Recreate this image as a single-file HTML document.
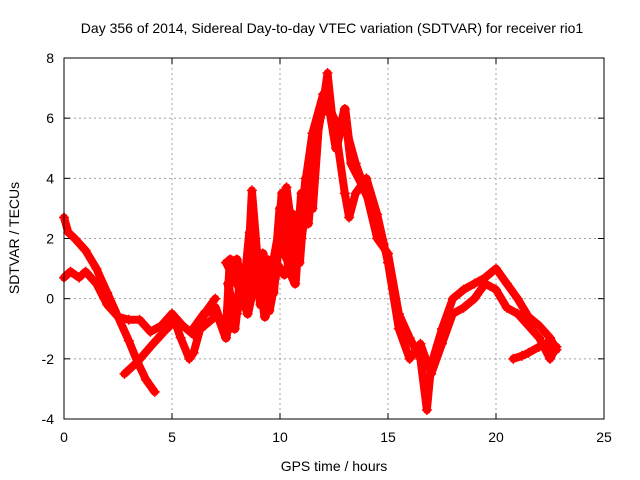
<!DOCTYPE html>
<html><head><meta charset="utf-8"><style>
body{margin:0;background:#fff;}
svg{display:block;font-family:"Liberation Sans",sans-serif;}
</style></head><body>
<svg id="chart" width="640" height="480">
<rect width="640" height="480" fill="#fff"/>
<text x="332" y="33" font-size="14" text-anchor="middle">Day 356 of 2014, Sidereal Day-to-day VTEC variation (SDTVAR) for receiver rio1</text>
<text x="334" y="471" font-size="14" text-anchor="middle">GPS time / hours</text>
<text transform="translate(19,238) rotate(-90)" font-size="14" text-anchor="middle">SDTVAR / TECUs</text>
<g id="grid"></g><g id="series"></g><g id="axes"></g>
</svg>
<script>
const xTicks=[0,5,10,15,20,25];
const yTicks=[-4,-2,0,2,4,6,8];
const traceAT=[0,0.2,0.5,1,1.5,2,2.5,3,3.4,3.8,4.2];
const traceAV=[2.7,2.2,2.0,1.6,1.0,0.2,-0.6,-1.4,-2.1,-2.7,-3.1];
const traceBT=[0,0.3,0.7,1,1.5,2,2.5,3,3.5,4,4.5,5,5.5,6,6.5,7];
const traceBV=[0.7,0.9,0.7,0.9,0.5,-0.2,-0.6,-0.7,-0.7,-1.1,-0.9,-0.5,-0.9,-1.2,-0.9,-0.6];
const traceCT=[2.8,3.4,4,4.5,4.9,5.0,5.4,5.8,6.0,6.5,7.0];
const traceCV=[-2.5,-2.1,-1.6,-1.2,-0.9,-0.5,-1.3,-2.0,-1.8,-0.5,0.0];
const traceDT=[7.5,8,8.5,8.7,9,9.5,10,10.3,10.7,11,11.5,12,12.2,12.5,13,13.5,14,14.5,15,15.5,16,16.5,16.8,17,17.5,18,18.5,19,19.5,20,20.5,21,21.5,22,22.5,22.8];
const traceDV=[-1.2,-0.5,0.8,3.6,1.0,0.5,2.5,3.7,1.5,2.0,4.5,6.5,7.5,5.5,5.8,4.5,3.5,2.0,1.5,-0.5,-1.3,-2.0,-3.7,-2.2,-1.0,0.0,0.3,0.5,0.7,1.0,0.5,0.0,-0.6,-0.9,-1.3,-1.7];
const traceET=[7.5,8,8.5,9,9.5,10,10.5,11,11.5,12,12.5,13,13.2,13.5,14,14.5,15,15.5,16,16.5,17,17.5,18,18.5,19,19.5,20,20.5,21,21.5,22,22.5,22.8];
const traceEV=[1.2,0.5,-0.3,1.0,0.3,1.8,1.0,3.0,5.5,6.8,6.0,3.5,2.7,3.5,4.0,2.8,1.2,-1.0,-2.0,-1.5,-2.5,-1.5,-0.5,-0.3,0.0,0.5,0.3,-0.3,-0.5,-0.9,-1.3,-2.0,-1.6];
const traceFT=[20.8,21.2,21.5,22,22.3,22.5];
const traceFV=[-2.0,-1.9,-1.8,-1.6,-1.5,-1.7];
const traceGT=[6,6.5,7,7.5,7.7,8,8.5,9,9.3,9.8,10.2];
const traceGV=[-1.0,-0.5,-0.3,-1.3,1.3,1.0,-0.5,1.2,-0.6,1.2,0.8];
const traceHT=[7.6,7.9,8.2,8.5,8.8,9.1,9.4,9.7,10,10.3,10.6,10.9,11.2,11.5,11.8];
const traceHV=[0.5,-1.0,0.8,-0.2,1.8,-0.2,1.3,0.2,3.0,2.0,2.8,1.2,4.0,3.0,6.0];
const traceIT=[8,8.3,8.6,8.9,9.2,9.5,9.8,10.1,10.4,10.7,11,11.3,11.6,11.9,12.3,12.6,13,13.3,13.8,14.3,14.8];
const traceIV=[1.3,0.0,2.2,0.3,1.5,-0.4,0.8,3.5,1.0,0.5,3.5,2.5,5.0,6.2,6.3,5.0,6.3,4.5,3.8,3.0,1.8];

const L=64,R=604,T=58,B=419;
const xs=t=>L+(t-0)/25*(R-L);
const ys=v=>B-(v+4)/12*(B-T);
const NS='http://www.w3.org/2000/svg';
function mk(tag,attrs,parent){const e=document.createElementNS(NS,tag);for(const k in attrs)e.setAttribute(k,attrs[k]);parent.appendChild(e);return e;}
const grid=document.getElementById('grid'),axes=document.getElementById('axes'),series=document.getElementById('series');
xTicks.forEach(t=>{const x=xs(t);
 if(t>0&&t<25){const g=mk('line',{x1:x,y1:T,x2:x,y2:B,stroke:'#a0a0a0','stroke-dasharray':'2,3'},grid);
 
 }
 mk('line',{x1:x,y1:B,x2:x,y2:B-6,stroke:'#000'},axes);mk('line',{x1:x,y1:T,x2:x,y2:T+6,stroke:'#000'},axes);
 const lb=mk('text',{x:x,y:B+23,'font-size':14,'text-anchor':'middle'},axes);lb.textContent=t;
 
 });
yTicks.forEach(v=>{const y=ys(v);
 if(v>-4&&v<8){const g=mk('line',{x1:L,y1:y,x2:R,y2:y,stroke:'#a0a0a0','stroke-dasharray':'2,3'},grid);
 
 }
 mk('line',{x1:L,y1:y,x2:L+6,y2:y,stroke:'#000'},axes);mk('line',{x1:R,y1:y,x2:R-6,y2:y,stroke:'#000'},axes);
 const lb=mk('text',{x:L-10,y:y+5,'font-size':14,'text-anchor':'end'},axes);lb.textContent=v;
 
 });
const frame=mk('rect',{x:L,y:T,width:R-L,height:B-T,fill:'none',stroke:'#000','stroke-width':1},axes);


[[traceAT,traceAV],[traceBT,traceBV],[traceCT,traceCV],[traceDT,traceDV],[traceET,traceEV],[traceFT,traceFV],[traceGT,traceGV],[traceHT,traceHV],[traceIT,traceIV]].forEach((tr,i)=>{
 const g=mk('g',{},series);
 
 
 const pts=tr[0].map((t,j)=>xs(t)+','+ys(tr[1][j])).join(' ');
 mk('polyline',{points:pts,fill:'none',stroke:'#f00','stroke-width':i>=6?9:8,'stroke-linejoin':'round','stroke-linecap':'round'},g);
 tr[0].forEach((t,j)=>{const x=xs(t),y=ys(tr[1][j]);
  const p=mk('path',{d:`M${x-5},${y}h10M${x},${y-5}v10`,stroke:'#f00','stroke-width':1.5},g);
  
  });
});
</script>
</body></html>
